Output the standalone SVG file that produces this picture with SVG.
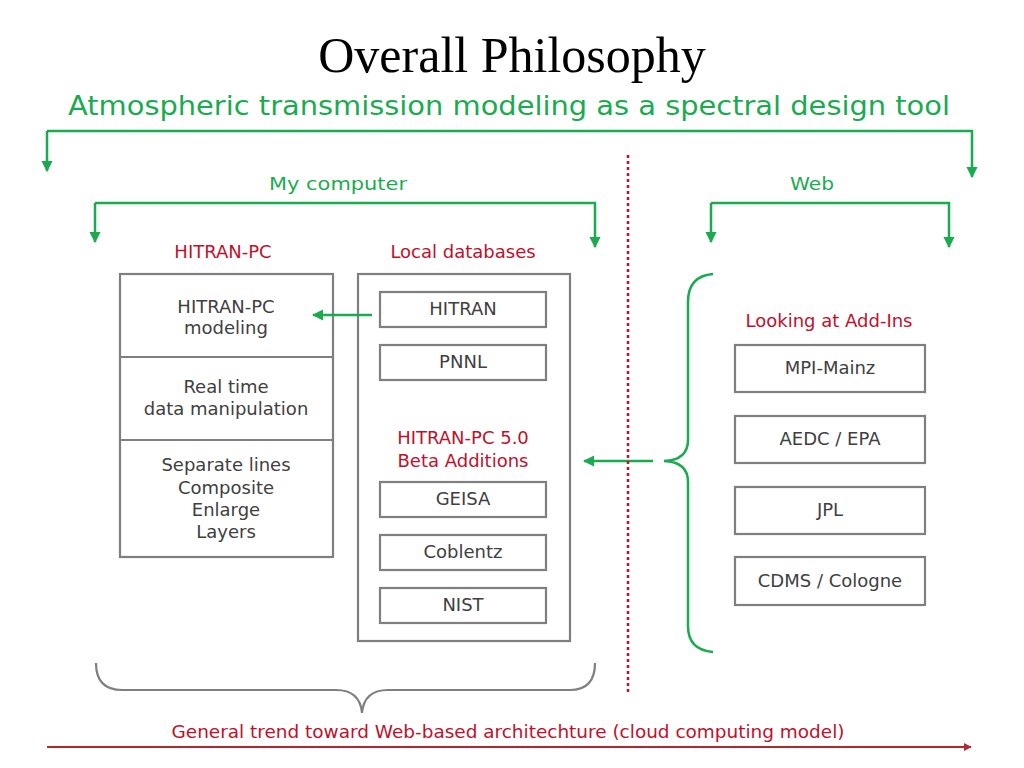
<svg xmlns="http://www.w3.org/2000/svg" width="1024" height="768" viewBox="0 0 1024 768">
<defs>
<style>
.t{font-family:"DejaVu Sans","Liberation Sans",sans-serif;text-anchor:middle}
.g{fill:#404040;font-size:18px}
.r{fill:#c0102a;font-size:18px}
.gr{fill:#1aab50}
.box{fill:#fff;stroke:#7f7f7f;stroke-width:2.2}
.gl{fill:none;stroke:#1aab50;stroke-width:2.5}
</style>
<marker id="ag" viewBox="0 0 10 10" refX="9" refY="5" markerWidth="4.5" markerHeight="4.5" orient="auto"><path d="M0,0L10,5L0,10z" fill="#1aab50"/></marker>
<marker id="ar" viewBox="0 0 10 10" refX="9" refY="5" markerWidth="4" markerHeight="4" orient="auto"><path d="M0,0L10,5L0,10z" fill="#b02a30"/></marker>
</defs>
<rect width="1024" height="768" fill="#fff"/>
<text x="512" y="72" font-family="Liberation Serif,serif" font-size="50" text-anchor="middle" fill="#000">Overall Philosophy</text>
<text class="t gr" x="509" y="115" font-size="26" textLength="882" lengthAdjust="spacingAndGlyphs">Atmospheric transmission modeling as a spectral design tool</text>
<text class="t gr" x="338" y="190" font-size="18" textLength="138" lengthAdjust="spacingAndGlyphs">My computer</text>
<text class="t gr" x="812" y="190" font-size="18" textLength="44" lengthAdjust="spacingAndGlyphs">Web</text>
<text class="t r" x="223" y="258" font-size="17.5">HITRAN-PC</text>
<text class="t r" x="463" y="258" font-size="17.5">Local databases</text>
<g id="hitranpc">
<rect class="box" x="120" y="274" width="213" height="283"/>
<path d="M120,357H333M120,440H333" stroke="#7f7f7f" stroke-width="2.2"/>
<text class="t g" x="226" y="313">HITRAN-PC</text>
<text class="t g" x="226" y="334">modeling</text>
<text class="t g" x="226" y="393">Real time</text>
<text class="t g" x="226" y="415">data manipulation</text>
<text class="t g" x="226" y="471">Separate lines</text>
<text class="t g" x="226" y="494">Composite</text>
<text class="t g" x="226" y="516">Enlarge</text>
<text class="t g" x="226" y="538">Layers</text>
</g>
<g id="localdb">
<rect class="box" x="358" y="274" width="212" height="367"/>
<text class="t r" x="463" y="444">HITRAN-PC 5.0</text>
<text class="t r" x="463" y="467">Beta Additions</text>
</g>
<g id="hitran"><rect class="box" x="380" y="292" width="166" height="35"/><text class="t g" x="463" y="315">HITRAN</text></g>
<g id="pnnl"><rect class="box" x="380" y="345" width="166" height="35"/><text class="t g" x="463" y="368">PNNL</text></g>
<g id="geisa"><rect class="box" x="380" y="482" width="166" height="35"/><text class="t g" x="463" y="505">GEISA</text></g>
<g id="coblentz"><rect class="box" x="380" y="535" width="166" height="35"/><text class="t g" x="463" y="558">Coblentz</text></g>
<g id="nist"><rect class="box" x="380" y="588" width="166" height="35"/><text class="t g" x="463" y="611">NIST</text></g>
<text class="t r" x="829" y="327">Looking at Add-Ins</text>
<g id="mpi"><rect class="box" x="735" y="345" width="190" height="47"/><text class="t g" x="830" y="374">MPI-Mainz</text></g>
<g id="aedc"><rect class="box" x="735" y="416" width="190" height="47"/><text class="t g" x="830" y="445">AEDC / EPA</text></g>
<g id="jpl"><rect class="box" x="735" y="487" width="190" height="47"/><text class="t g" x="830" y="516">JPL</text></g>
<g id="cdms"><rect class="box" x="735" y="557" width="190" height="48"/><text class="t g" x="830" y="587">CDMS / Cologne</text></g>
<text class="t" x="508" y="738" font-size="17" fill="#c0102a" textLength="673" lengthAdjust="spacingAndGlyphs">General trend toward Web-based architechture (cloud computing model)</text>
<g id="connectors">
<path class="gl" d="M47,131H972V177" marker-end="url(#ag)"/>
<path class="gl" d="M47,131V171" marker-end="url(#ag)"/>
<path class="gl" d="M95,203H595V247" marker-end="url(#ag)"/>
<path class="gl" d="M95,203V242" marker-end="url(#ag)"/>
<path class="gl" d="M711,203H949V247" marker-end="url(#ag)"/>
<path class="gl" d="M711,203V242" marker-end="url(#ag)"/>
<path class="gl" d="M372,315H313" marker-end="url(#ag)"/>
<path class="gl" d="M653,461H584" marker-end="url(#ag)"/>
<path class="gl" d="M713,274Q688,276 688,302V440Q688,460 664,461Q688,462 688,482V626Q688,650 713,652"/>
<path d="M96,663Q96,690 122,690H336Q360,690 362,713Q364,690 388,690H570Q595,690 595,663" fill="none" stroke="#7f7f7f" stroke-width="2.2"/>
<path d="M628,155V695" stroke="#c0102a" stroke-width="2.5" stroke-dasharray="3,3"/>
<path d="M47,747H971" stroke="#b02a30" stroke-width="2" marker-end="url(#ar)"/>
</g>
</svg>
